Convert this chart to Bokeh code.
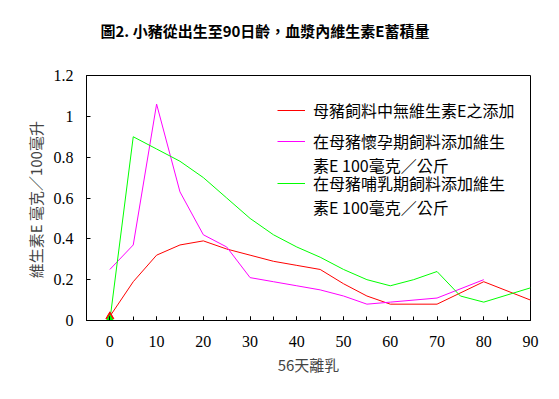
from bokeh.plotting import figure
from bokeh.models import Legend, LegendItem, Title, FixedTicker, Range1d
from bokeh.embed import file_html
from bokeh.resources import INLINE

# Data
days_red = [0, 5, 10, 15, 20, 25, 30, 35, 40, 45, 50, 55, 60, 70, 80, 90]
vitE_red = [0.02, 0.19, 0.32, 0.37, 0.39, 0.35, 0.32, 0.29, 0.27, 0.25, 0.18, 0.12, 0.08, 0.08, 0.19, 0.10]

days_mag = [0, 5, 10, 15, 20, 25, 30, 35, 40, 45, 50, 55, 60, 70, 80]
vitE_mag = [0.25, 0.37, 1.06, 0.63, 0.42, 0.36, 0.21, 0.19, 0.17, 0.15, 0.12, 0.08, 0.09, 0.11, 0.20]

days_grn = [0, 5, 10, 15, 20, 25, 30, 35, 40, 45, 50, 55, 60, 65, 70, 75, 80, 90]
vitE_grn = [0.0, 0.90, 0.84, 0.78, 0.70, 0.60, 0.50, 0.42, 0.36, 0.31, 0.25, 0.20, 0.17, 0.20, 0.24, 0.12, 0.09, 0.16]

x_ticks = [0, 10, 20, 30, 40, 50, 60, 70, 80, 90]
x_minor = [-5, 0, 5, 10, 15, 20, 25, 30, 35, 40, 45, 50, 55, 60, 65, 70, 75, 80, 85, 90]
y_ticks = [0, 0.2, 0.4, 0.6, 0.8, 1.0, 1.2]
y_labels = {0: "0", 0.2: "0.2", 0.4: "0.4", 0.6: "0.6", 0.8: "0.8", 1.0: "1", 1.2: "1.2"}

title_text = "圖2. 小豬從出生至90日齡，血漿內維生素E蓄積量"
x_label = "56天離乳"
y_label = "維生素E  毫克／100毫升"
legend_red = ["母豬飼料中無維生素E之添加"]
legend_mag = ["在母豬懷孕期飼料添加維生", "素E 100毫克／公斤"]
legend_grn = ["在母豬哺乳期飼料添加維生", "素E 100毫克／公斤"]

CJK = "Noto Sans CJK TC"
SERIF = "Liberation Serif"
RED, MAGENTA, GREEN = "#FF0000", "#FF00FF", "#00FF00"

p = figure(width=551, height=391, output_backend="svg", toolbar_location=None,
           x_range=Range1d(-5, 90), y_range=Range1d(0, 1.2),
           min_border_left=86, min_border_right=21, min_border_top=75, min_border_bottom=71)
p.grid.visible = False
p.outline_line_color = "black"
p.outline_line_width = 1
p.background_fill_color = "white"
p.border_fill_color = "white"

# spacer (closest to the frame), then the real title above it
p.add_layout(Title(text=" ", text_font_size="2px", standoff=26), "above")
p.add_layout(Title(text=title_text, text_font=CJK, text_font_size="15px", text_font_style="bold",
                   align="left", offset=14, standoff=10, text_color="black"), "above")

# axes
xa = p.xaxis[0]
xa.ticker = FixedTicker(ticks=x_ticks, minor_ticks=x_minor)
xa.major_tick_in = 4
xa.major_tick_out = 0
xa.minor_tick_in = 4
xa.minor_tick_out = 0
xa.major_label_standoff = 15
xa.major_label_text_font = SERIF
xa.major_label_text_font_size = "16px"
xa.major_label_text_color = "black"
xa.axis_label = x_label
xa.axis_label_text_font = CJK
xa.axis_label_text_font_size = "15px"
xa.axis_label_text_font_style = "normal"
xa.axis_label_standoff = 4
xa.axis_line_color = "black"

ya = p.yaxis[0]
ya.ticker = FixedTicker(ticks=y_ticks, minor_ticks=[])
ya.major_label_overrides = y_labels
ya.major_tick_in = 4
ya.major_tick_out = 0
ya.minor_tick_in = 0
ya.minor_tick_out = 0
ya.major_label_standoff = 13
ya.major_label_text_font = SERIF
ya.major_label_text_font_size = "16px"
ya.major_label_text_color = "black"
ya.axis_label = y_label
ya.axis_label_text_font = CJK
ya.axis_label_text_font_size = "15px"
ya.axis_label_text_font_style = "normal"
ya.axis_label_standoff = 5
ya.axis_line_color = "black"

r_red = p.line(days_red, vitE_red, line_color=RED, line_width=1)
r_mag = p.line(days_mag, vitE_mag, line_color=MAGENTA, line_width=1)
r_grn = p.line(days_grn, vitE_grn, line_color=GREEN, line_width=1)
p.scatter(days_red[:1], vitE_red[:1], marker="triangle", size=8, fill_color=RED, line_color=RED)
p.scatter(days_grn[:1], vitE_grn[:1], marker="triangle", size=10, fill_color=GREEN, line_color=GREEN)

blank = [p.line([], [], line_color="white", line_width=1) for _ in range(2)]


def make_legend(items, loc):
    lg = Legend(items=items, location=loc, padding=0, margin=0, spacing=0,
                glyph_width=28, glyph_height=18, label_height=18, label_standoff=8,
                label_text_font=CJK, label_text_font_size="16px", label_text_color="black",
                border_line_alpha=0, background_fill_alpha=0)
    p.add_layout(lg, "center")


make_legend([LegendItem(label=legend_red[0], renderers=[r_red])], (191, 198))
make_legend([LegendItem(label=legend_mag[0], renderers=[r_mag]),
             LegendItem(label=legend_mag[1], renderers=[blank[0]])], (191, 143))
make_legend([LegendItem(label=legend_grn[0], renderers=[r_grn]),
             LegendItem(label=legend_grn[1], renderers=[blank[1]])], (191, 101))

open("out.html", "w").write(file_html(p, INLINE))
